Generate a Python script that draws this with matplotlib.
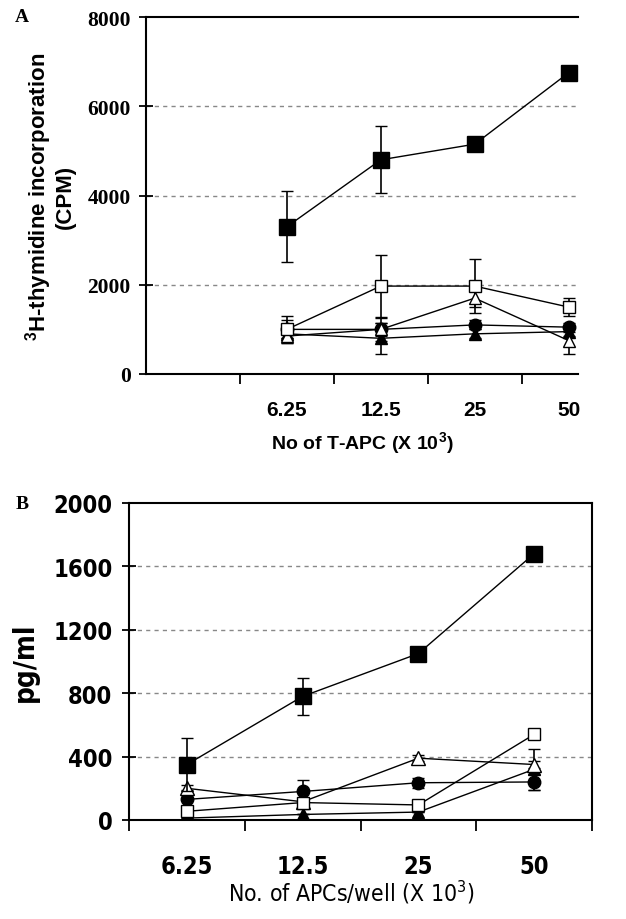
import matplotlib
matplotlib.use("Agg")
import matplotlib.pyplot as plt
from matplotlib import font_manager as fm
from matplotlib.font_manager import FontProperties

x_labels = ['6.25', '12.5', '25', '50']

# Panel A: 3H-thymidine incorporation (CPM)
a_fsq = [3300, 4800, 5150, 6750]
a_fsq_err = [800, 750, 80, 150]
a_osq = [1000, 1970, 1970, 1500]
a_osq_err = [300, 700, 600, 200]
a_otri = [850, 1000, 1700, 750]
a_otri_err = [150, 250, 200, 300]
a_fcir = [1000, 1000, 1100, 1050]
a_fcir_err = [200, 150, 100, 100]
a_ftri = [900, 800, 900, 950]
a_ftri_err = [100, 350, 100, 100]

# Panel B: pg/ml
b_fsq = [350, 780, 1050, 1680]
b_fsq_err = [170, 115, 20, 40]
b_osq = [55, 110, 95, 540]
b_osq_err = [15, 15, 15, 20]
b_otri = [200, 115, 390, 350]
b_otri_err = [20, 20, 20, 20]
b_fcir = [130, 180, 235, 240]
b_fcir_err = [60, 70, 30, 50]
b_ftri = [12, 35, 50, 320]
b_ftri_err = [0, 0, 0, 130]

a_yticks = [0, 2000, 4000, 6000, 8000]
b_yticks = [0, 400, 800, 1200, 1600, 2000]

SANS = 'Liberation Sans'
SERIF = 'Liberation Serif'

# look for a condensed / narrow sans face
def find_narrow(bold):
    best = None
    for f in fm.fontManager.ttflist:
        nm = f.name.lower()
        fn = f.fname.lower()
        narrow = ('narrow' in nm or 'condensed' in nm or 'narrow' in fn or 'condensed' in fn
                  or f.stretch in ('condensed', 'semi-condensed', 'extra-condensed'))
        if not narrow or 'serif' in nm or 'mono' in nm:
            continue
        w = f.weight if isinstance(f.weight, int) else (700 if 'bold' in str(f.weight) else 400)
        isbold = w >= 600
        if isbold != bold:
            continue
        if f.style != 'normal':
            continue
        if best is None:
            best = f
    return best

nb = find_narrow(True)
nr = find_narrow(False)
if nb is not None:
    NB = dict(fontproperties=FontProperties(fname=nb.fname))
    nb_scale = 1.0
else:
    NB = dict(fontfamily=SANS, fontweight='bold')
    nb_scale = 0.84
if nr is not None:
    NR = dict(fontproperties=FontProperties(fname=nr.fname))
    nr_scale = 1.0
else:
    NR = dict(fontfamily=SANS)
    nr_scale = 0.86

fig = plt.figure(figsize=(6.26, 9.2), dpi=100)

ax1 = fig.add_axes([146/626, 1-375/920, (578-146)/626, 357/920])
ax2 = fig.add_axes([129/626, 1-821/920, (592-129)/626, 317/920])

def draw_series(ax, xs, series):
    for y, e, mk, fc, ms, z in series:
        ax.errorbar(xs, y, yerr=e, fmt='-', color='black', lw=1.0,
                    marker=mk, markersize=ms, markerfacecolor=fc,
                    markeredgecolor='black', markeredgewidth=1.0,
                    elinewidth=1.2, capsize=4.5, capthick=1.2, zorder=z)

# ---- Panel A ----
xa = [1, 2, 3, 4]
seriesA = [
    (a_ftri, a_ftri_err, '^', 'black', 9, 3),
    (a_fcir, a_fcir_err, 'o', 'black', 9, 3),
    (a_otri, a_otri_err, '^', 'white', 9, 4),
    (a_osq, a_osq_err, 's', 'white', 9, 4),
    (a_fsq, a_fsq_err, 's', 'black', 11, 5),
]
draw_series(ax1, xa, seriesA)
ax1.set_xlim(-0.5, 4.1)
ax1.set_ylim(0, 8000)
ax1.set_yticks(a_yticks)
ax1.set_yticklabels([str(v) for v in a_yticks], fontfamily=SERIF, fontweight='bold', fontsize=15.5)
ax1.set_xticks([0.5, 1.5, 2.5, 3.5])
ax1.set_xticklabels([])
for i, lab in enumerate(x_labels):
    ax1.text(xa[i], -0.1, lab, transform=ax1.get_xaxis_transform(), ha='center', va='center',
             fontfamily=SANS, fontweight='bold', fontsize=15)
for v in a_yticks[1:-1]:
    ax1.axhline(v, color='#888888', lw=1.0, ls=(0, (3, 3)), zorder=1)
ax1.spines['right'].set_visible(False)
for s in ['left', 'top', 'bottom']:
    ax1.spines[s].set_linewidth(1.5)
ax1.tick_params(axis='y', direction='inout', length=10, width=1.3, pad=6)
ax1.tick_params(axis='x', direction='out', length=7, width=1.3)
ax1.set_ylabel('$\\mathregular{^3}$H-thymidine incorporation\n(CPM)', fontfamily=SANS,
               fontweight='bold', fontsize=16, labelpad=8, linespacing=1.05)
ax1.text(0.5, -0.19, 'No of T-APC (X 10$\\mathregular{^3}$)', transform=ax1.transAxes,
         ha='center', va='center', fontfamily=SANS, fontweight='bold', fontsize=14)
fig.text(22/626, 1-18/920, 'A', fontfamily=SERIF, fontweight='bold', fontsize=14, va='center', ha='center')

# ---- Panel B ----
xb = [1, 2, 3, 4]
seriesB = [
    (b_ftri, b_ftri_err, '^', 'black', 9, 3),
    (b_fcir, b_fcir_err, 'o', 'black', 9, 3),
    (b_otri, b_otri_err, '^', 'white', 10, 4),
    (b_osq, b_osq_err, 's', 'white', 9, 4),
    (b_fsq, b_fsq_err, 's', 'black', 11, 5),
]
draw_series(ax2, xb, seriesB)
ax2.set_xlim(0.5, 4.5)
ax2.set_ylim(0, 2000)
ax2.set_yticks(b_yticks)
ax2.set_yticklabels([str(v) for v in b_yticks])
for t in ax2.get_yticklabels():
    t.set(**NB)
    t.set_fontsize(17 * nb_scale)
ax2.set_xticks([0.5, 1.5, 2.5, 3.5, 4.5])
ax2.set_xticklabels([])
for i, lab in enumerate(x_labels):
    ax2.text(xb[i], -0.145, lab, transform=ax2.get_xaxis_transform(), ha='center', va='center',
             fontsize=17 * nb_scale, **NB)
for v in b_yticks[1:-1]:
    ax2.axhline(v, color='#888888', lw=1.0, ls=(0, (3, 3)), zorder=1)
for s in ['left', 'top', 'bottom', 'right']:
    ax2.spines[s].set_linewidth(1.5)
ax2.tick_params(axis='y', direction='inout', length=10, width=1.3, pad=7)
ax2.tick_params(axis='x', direction='out', length=8, width=1.3)
yl = ax2.set_ylabel('pg/ml', labelpad=10, **NB)
yl.set_fontsize(20 * nb_scale)
ax2.text(0.48, -0.225, 'No. of APCs/well (X 10$\\mathregular{^3}$)', transform=ax2.transAxes,
         ha='center', va='center', fontsize=16.5 * nr_scale, **NR)
fig.text(22/626, 1-505/920, 'B', fontfamily=SERIF, fontweight='bold', fontsize=14, va='center', ha='center')

fig.savefig('out.png', dpi=100)
